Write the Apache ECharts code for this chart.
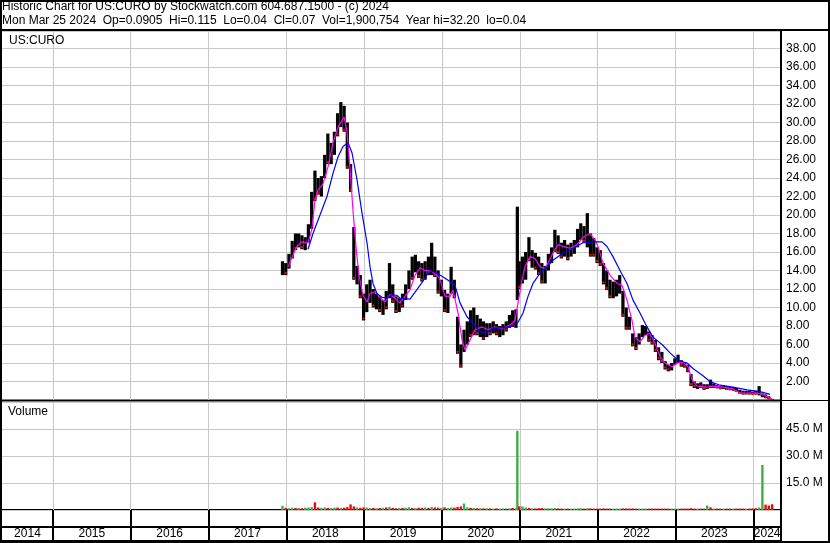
<!DOCTYPE html>
<html>
<head>
<meta charset="utf-8">
<script src="https://cdn.jsdelivr.net/npm/echarts@6.0.0/dist/echarts.min.js"></script>
<style>
  html, body { margin: 0; padding: 0; background: #fff; }
  #chart { width: 830px; height: 543px; }
</style>
</head>
<body>
<div id="chart"></div>
<script>
// price range per half month: [decimal year, low, high]
var priceBars = [
  [2017.950, 13.5, 15.0], [2017.992, 13.5, 14.8], [2018.033, 14.2, 15.8], [2018.075, 15.3, 17.2],
  [2018.117, 16.2, 18.0], [2018.158, 16.5, 18.0], [2018.200, 16.3, 17.8], [2018.242, 16.2, 17.6],
  [2018.283, 17.0, 19.0], [2018.325, 18.5, 22.5], [2018.367, 21.5, 24.8], [2018.408, 22.2, 24.0],
  [2018.450, 22.0, 24.2], [2018.492, 24.0, 26.5], [2018.533, 25.5, 28.8], [2018.575, 25.5, 27.8],
  [2018.617, 26.5, 29.0], [2018.658, 28.5, 31.0], [2018.700, 29.5, 32.2], [2018.742, 29.0, 31.8],
  [2018.783, 25.0, 30.0], [2018.825, 22.5, 25.5], [2018.867, 13.0, 18.7], [2018.908, 12.5, 14.5],
  [2018.950, 11.0, 13.5], [2018.992, 8.6, 11.5], [2019.033, 9.5, 12.5], [2019.075, 10.5, 13.0],
  [2019.117, 10.0, 12.0], [2019.158, 9.8, 11.5], [2019.200, 9.5, 11.2], [2019.242, 9.2, 10.8],
  [2019.283, 9.8, 11.8], [2019.325, 11.0, 14.8], [2019.367, 10.5, 12.5], [2019.408, 9.4, 11.2],
  [2019.450, 9.5, 11.0], [2019.492, 10.0, 11.5], [2019.533, 10.8, 12.5], [2019.575, 12.0, 14.0],
  [2019.617, 13.0, 15.5], [2019.658, 13.8, 15.7], [2019.700, 13.2, 15.0], [2019.742, 12.8, 14.8],
  [2019.783, 13.0, 15.0], [2019.825, 13.5, 15.5], [2019.867, 13.5, 17.0], [2019.908, 13.3, 15.5],
  [2019.950, 11.5, 14.0], [2019.992, 11.2, 13.0], [2020.033, 9.5, 11.9], [2020.075, 9.4, 11.5],
  [2020.117, 11.5, 14.4], [2020.158, 11.0, 13.0], [2020.200, 5.0, 9.0], [2020.242, 3.5, 6.0],
  [2020.283, 5.2, 7.6], [2020.325, 6.0, 8.5], [2020.367, 6.8, 9.7], [2020.408, 7.0, 10.0],
  [2020.450, 7.0, 9.2], [2020.492, 6.8, 8.8], [2020.533, 6.5, 8.5], [2020.575, 6.8, 8.3],
  [2020.617, 7.0, 8.3], [2020.658, 7.2, 8.5], [2020.700, 7.0, 8.2], [2020.742, 6.8, 8.0],
  [2020.783, 7.0, 8.2], [2020.825, 7.4, 8.5], [2020.867, 7.8, 9.2], [2020.908, 7.9, 9.7],
  [2020.950, 7.8, 9.8], [2020.968, 10.8, 20.9], [2020.992, 12.0, 15.0], [2021.033, 12.6, 15.5],
  [2021.075, 13.0, 16.0], [2021.117, 15.0, 17.6], [2021.158, 14.3, 16.2], [2021.200, 14.1, 15.9],
  [2021.242, 13.5, 15.5], [2021.283, 12.6, 14.8], [2021.325, 12.6, 14.5], [2021.367, 14.0, 15.8],
  [2021.408, 14.8, 16.5], [2021.450, 16.0, 18.4], [2021.492, 15.8, 17.8], [2021.533, 15.3, 17.0],
  [2021.575, 15.5, 17.3], [2021.617, 15.1, 16.8], [2021.658, 15.5, 17.0], [2021.700, 15.8, 17.3],
  [2021.742, 16.5, 18.5], [2021.783, 17.3, 19.1], [2021.825, 17.0, 18.8], [2021.867, 16.5, 20.2],
  [2021.908, 15.5, 18.0], [2021.950, 15.5, 17.5], [2021.992, 14.8, 16.5], [2022.033, 14.5, 16.2],
  [2022.075, 12.5, 14.8], [2022.117, 11.9, 14.0], [2022.158, 11.0, 13.0], [2022.200, 11.0, 12.8],
  [2022.242, 11.2, 13.0], [2022.283, 11.5, 13.5], [2022.325, 9.0, 11.8], [2022.367, 7.6, 10.0],
  [2022.408, 7.6, 9.0], [2022.450, 5.8, 7.2], [2022.492, 5.4, 6.8], [2022.533, 6.0, 7.2],
  [2022.575, 6.8, 8.1], [2022.617, 7.0, 8.0], [2022.658, 6.3, 7.4], [2022.700, 6.0, 7.0],
  [2022.742, 5.2, 6.5], [2022.783, 4.3, 5.7], [2022.825, 4.0, 5.2], [2022.867, 3.3, 4.2],
  [2022.908, 3.1, 3.8], [2022.950, 3.2, 4.0], [2022.992, 3.8, 4.5], [2023.033, 4.0, 4.9],
  [2023.075, 3.6, 4.3], [2023.117, 3.5, 4.1], [2023.158, 3.0, 3.8], [2023.200, 1.5, 2.8],
  [2023.242, 1.3, 2.0], [2023.283, 1.2, 1.8], [2023.325, 1.3, 1.9], [2023.367, 1.1, 1.7],
  [2023.408, 1.2, 1.7], [2023.450, 1.3, 2.2], [2023.492, 1.3, 1.8], [2023.533, 1.3, 1.6],
  [2023.575, 1.2, 1.5], [2023.617, 1.2, 1.6], [2023.658, 1.1, 1.5], [2023.700, 1.1, 1.4],
  [2023.742, 1.0, 1.4], [2023.783, 0.9, 1.3], [2023.825, 0.7, 1.1], [2023.867, 0.6, 1.0],
  [2023.908, 0.6, 1.0], [2023.950, 0.6, 1.0], [2023.992, 0.6, 0.9], [2024.033, 0.6, 1.0],
  [2024.075, 0.5, 1.5], [2024.117, 0.3, 0.7], [2024.158, 0.2, 0.6], [2024.200, 0.1, 0.4],
  [2024.242, 0.04, 0.12]
]

// short average (magenta)
var fastAvg = [
  [2018.021, 14.4], [2018.133, 16.6], [2018.197, 17.1], [2018.278, 17.0], [2018.326, 18.4],
  [2018.368, 21.6], [2018.407, 22.7], [2018.471, 23.4], [2018.535, 25.2], [2018.599, 27.8],
  [2018.664, 29.5], [2018.741, 30.6], [2018.779, 29.0], [2018.818, 25.0], [2018.856, 20.5],
  [2018.895, 16.5], [2018.933, 13.5], [2018.985, 11.3], [2019.036, 10.6], [2019.075, 11.5],
  [2019.139, 11.7], [2019.203, 11.1], [2019.267, 10.6], [2019.332, 11.4], [2019.396, 11.0],
  [2019.460, 10.5], [2019.589, 11.9], [2019.653, 13.5], [2019.717, 14.3], [2019.781, 14.0],
  [2019.846, 14.0], [2019.936, 13.5], [2019.974, 13.0], [2020.039, 11.2], [2020.103, 11.2],
  [2020.141, 11.9], [2020.206, 9.4], [2020.257, 6.5], [2020.296, 5.4], [2020.360, 6.5],
  [2020.424, 7.6], [2020.514, 7.9], [2020.591, 7.6], [2020.681, 7.9], [2020.771, 7.7],
  [2020.874, 8.1], [2020.938, 8.6], [2020.977, 10.5], [2021.028, 13.0], [2021.066, 14.4],
  [2021.131, 15.5], [2021.195, 15.3], [2021.259, 14.4], [2021.323, 14.2], [2021.362, 14.8],
  [2021.426, 15.9], [2021.491, 16.8], [2021.555, 16.6], [2021.645, 16.4], [2021.735, 16.8],
  [2021.812, 17.6], [2021.902, 18.0], [2021.966, 17.3], [2022.005, 16.6], [2022.069, 14.8],
  [2022.159, 13.5], [2022.249, 12.6], [2022.313, 12.4], [2022.377, 10.8], [2022.441, 8.6],
  [2022.480, 6.8], [2022.544, 6.3], [2022.609, 7.0], [2022.673, 7.2], [2022.737, 6.1],
  [2022.801, 4.7], [2022.865, 4.0], [2022.955, 3.6], [2023.020, 4.0], [2023.097, 4.1],
  [2023.161, 3.6], [2023.212, 2.2], [2023.277, 1.5], [2023.405, 1.4], [2023.482, 1.5],
  [2023.611, 1.4], [2023.739, 1.2], [2023.829, 0.75], [2024.048, 0.75], [2024.125, 0.6],
  [2024.240, 0.1]
]

// long average (blue)
var slowAvg = [
  [2018.278, 16.3], [2018.342, 18.0], [2018.432, 20.0], [2018.522, 22.0], [2018.599, 24.5],
  [2018.664, 26.3], [2018.728, 27.4], [2018.792, 27.8], [2018.844, 26.7], [2018.908, 23.8],
  [2018.972, 20.2], [2019.036, 17.0], [2019.075, 14.4], [2019.113, 12.6], [2019.165, 11.5],
  [2019.229, 11.1], [2019.293, 11.0], [2019.357, 11.4], [2019.422, 11.3], [2019.460, 11.0],
  [2019.589, 10.9], [2019.717, 12.4], [2019.846, 14.0], [2019.936, 13.7], [2020.013, 13.3],
  [2020.103, 12.8], [2020.167, 12.4], [2020.231, 10.5], [2020.321, 9.0], [2020.398, 8.3],
  [2020.488, 7.4], [2020.553, 7.2], [2020.655, 7.8], [2020.784, 7.8], [2020.900, 8.0],
  [2020.977, 8.4], [2021.041, 9.4], [2021.105, 11.2], [2021.169, 12.6], [2021.259, 13.7],
  [2021.349, 14.4], [2021.426, 15.1], [2021.555, 15.9], [2021.683, 16.4], [2021.812, 17.0],
  [2021.940, 17.1], [2022.056, 17.1], [2022.120, 16.6], [2022.197, 15.5], [2022.287, 14.0],
  [2022.377, 12.6], [2022.454, 10.8], [2022.544, 9.4], [2022.634, 7.9], [2022.711, 6.8],
  [2022.827, 6.0], [2022.930, 5.1], [2023.033, 4.3], [2023.148, 4.0], [2023.225, 3.4],
  [2023.341, 2.7], [2023.444, 2.0], [2023.572, 1.6], [2023.739, 1.4], [2023.919, 1.1],
  [2024.086, 0.9], [2024.215, 0.6]
]

// volume in millions: [decimal year, volume, 1 = up / 0 = down]
var volumes = [
  [2017.950, 2.3, 1], [2017.992, 1.2, 0], [2018.033, 1.0, 1], [2018.075, 1.3, 1], [2018.117, 1.1, 0],
  [2018.158, 1.2, 1], [2018.200, 1.0, 0], [2018.242, 1.3, 1], [2018.283, 1.4, 1], [2018.325, 1.6, 1],
  [2018.367, 4.3, 0], [2018.408, 1.4, 0], [2018.450, 1.2, 1], [2018.492, 1.4, 1], [2018.533, 1.2, 0],
  [2018.575, 1.1, 1], [2018.617, 1.3, 1], [2018.658, 1.4, 0], [2018.700, 1.2, 1], [2018.742, 1.3, 0],
  [2018.783, 1.6, 0], [2018.825, 3.1, 0], [2018.867, 2.0, 0], [2018.908, 1.4, 1], [2018.950, 1.2, 0],
  [2018.992, 1.5, 0], [2019.033, 1.3, 1], [2019.075, 1.1, 1], [2019.117, 1.2, 0], [2019.158, 1.0, 1],
  [2019.200, 1.1, 0], [2019.242, 1.2, 1], [2019.283, 1.4, 0], [2019.325, 1.7, 1], [2019.367, 1.2, 0],
  [2019.408, 1.0, 0], [2019.450, 1.1, 1], [2019.492, 1.2, 0], [2019.533, 1.3, 1], [2019.575, 1.5, 1],
  [2019.617, 1.2, 0], [2019.658, 1.1, 1], [2019.700, 1.3, 0], [2019.742, 1.2, 0], [2019.783, 1.4, 1],
  [2019.825, 1.2, 0], [2019.867, 1.6, 1], [2019.908, 1.4, 0], [2019.950, 1.3, 0], [2019.992, 1.2, 1],
  [2020.033, 1.5, 0], [2020.075, 1.2, 1], [2020.117, 1.4, 1], [2020.158, 1.3, 0], [2020.200, 1.7, 0],
  [2020.242, 2.0, 0], [2020.283, 3.6, 1], [2020.325, 1.5, 1], [2020.367, 1.2, 0], [2020.408, 1.1, 1],
  [2020.450, 1.0, 0], [2020.492, 1.0, 1], [2020.533, 0.9, 0], [2020.575, 1.0, 1], [2020.617, 0.9, 0],
  [2020.658, 0.8, 1], [2020.700, 0.9, 0], [2020.742, 0.8, 1], [2020.783, 0.9, 1], [2020.825, 0.8, 0],
  [2020.867, 1.0, 1], [2020.908, 1.1, 0], [2020.950, 1.0, 1], [2020.968, 44.0, 1], [2020.992, 2.0, 0],
  [2021.033, 2.0, 1], [2021.075, 1.4, 1], [2021.117, 1.2, 0], [2021.158, 1.0, 1], [2021.200, 0.9, 0],
  [2021.242, 1.0, 0], [2021.283, 1.1, 0], [2021.325, 0.9, 1], [2021.367, 1.0, 1], [2021.408, 0.9, 1],
  [2021.450, 1.1, 1], [2021.492, 0.9, 0], [2021.533, 0.8, 0], [2021.575, 0.8, 1], [2021.617, 0.8, 0],
  [2021.658, 0.8, 1], [2021.700, 0.8, 1], [2021.742, 0.9, 1], [2021.783, 1.0, 1], [2021.825, 0.8, 0],
  [2021.867, 1.0, 1], [2021.908, 0.9, 0], [2021.950, 0.8, 0], [2021.992, 0.8, 0], [2022.033, 0.8, 0],
  [2022.075, 0.9, 0], [2022.117, 0.8, 0], [2022.158, 0.8, 0], [2022.200, 0.8, 1], [2022.242, 0.8, 1],
  [2022.283, 0.8, 1], [2022.325, 0.9, 0], [2022.367, 0.9, 0], [2022.408, 0.8, 0], [2022.450, 0.9, 0],
  [2022.492, 0.8, 0], [2022.533, 0.8, 1], [2022.575, 0.8, 1], [2022.617, 0.8, 1], [2022.658, 0.8, 0],
  [2022.700, 0.8, 0], [2022.742, 0.8, 0], [2022.783, 0.8, 0], [2022.825, 0.8, 0], [2022.867, 0.8, 0],
  [2022.908, 0.8, 0], [2022.950, 0.8, 1], [2022.992, 0.8, 1], [2023.033, 0.8, 1], [2023.075, 0.8, 0],
  [2023.117, 0.8, 0], [2023.158, 0.8, 0], [2023.200, 1.0, 0], [2023.242, 0.8, 0], [2023.283, 0.8, 1],
  [2023.325, 0.8, 0], [2023.367, 0.8, 0], [2023.408, 2.5, 1], [2023.450, 1.5, 0], [2023.492, 0.8, 1],
  [2023.533, 0.8, 0], [2023.575, 0.8, 0], [2023.617, 0.8, 1], [2023.658, 0.8, 0], [2023.700, 0.8, 0],
  [2023.742, 0.8, 1], [2023.783, 0.8, 0], [2023.825, 0.8, 0], [2023.867, 0.8, 0], [2023.908, 0.8, 1],
  [2023.950, 0.8, 0], [2023.992, 0.9, 0], [2024.033, 1.0, 0], [2024.075, 1.4, 1], [2024.117, 25.0, 1],
  [2024.158, 3.0, 0], [2024.200, 2.5, 0], [2024.242, 3.2, 0]
]

var yearLabels = ['2014', '2015', '2016', '2017', '2018', '2019', '2020', '2021', '2022', '2023', '2024']
var priceStep = 2
var volumeStep = 15

var xMin = 2014
var xMax = 2024.356
var xVisible = 2014.346 // first year visible at the left frame
var font = 'Liberation Sans, Arial, sans-serif'

// centre of each (partly) visible year cell for the year labels
var yearCentres = yearLabels.map(function (y) {
  var a = Math.max(+y, xVisible)
  var b = Math.min(+y + 1, xMax)
  return (a + b) / 2
})

// down periods get a red mark at the low end of the range
var downAt = {}
volumes.forEach(function (v) { downAt[v[0]] = v[2] === 0 })

var myChart = echarts.init(document.getElementById('chart'))

function xAxisFor (gridIndex, lineColor, lineWidth) {
  return {
    gridIndex: gridIndex,
    type: 'value',
    min: xMin,
    max: xMax,
    interval: 1,
    axisLine: { show: false },
    axisTick: { show: false },
    axisLabel: { show: false },
    splitLine: { show: true, lineStyle: { color: lineColor, width: lineWidth } }
  }
}

var labelAxis = xAxisFor(3, '#000', 2)
labelAxis.axisLabel = {
  show: true,
  inside: true,
  margin: 1,
  customValues: yearCentres,
  color: '#000',
  fontSize: 12,
  fontFamily: font,
  formatter: function (v) {
    return yearLabels[Math.floor(v) - 2014]
  }
}

var gridBase = { left: -24.9, right: 49, show: true, borderColor: '#000', borderWidth: 1, backgroundColor: '#fff', outerBoundsMode: 'none', containLabel: false }

myChart.setOption({
  animation: false,
  backgroundColor: '#fff',
  title: [
    { text: 'Historic Chart for US:CURO by Stockwatch.com 604.687.1500 - (c) 2024', left: 2, top: 1, padding: 0,
      textStyle: { fontSize: 12, fontWeight: 'normal', color: '#000', fontFamily: font } },
    { text: 'Mon Mar 25 2024  Op=0.0905  Hi=0.115  Lo=0.04  Cl=0.07  Vol=1,900,754  Year hi=32.20  lo=0.04', left: 2, top: 15, padding: 0,
      textStyle: { fontSize: 12, fontWeight: 'normal', color: '#000', fontFamily: font } },
    { text: 'US:CURO', left: 9, top: 35, padding: 0,
      textStyle: { fontSize: 12, fontWeight: 'normal', color: '#000', fontFamily: font } },
    { text: 'Volume', left: 8, top: 406, padding: 0,
      textStyle: { fontSize: 12, fontWeight: 'normal', color: '#000', fontFamily: font } }
  ],
  grid: [
    Object.assign({}, gridBase, { top: 31, height: 369 }),
    Object.assign({}, gridBase, { top: 402, height: 108 }),
    Object.assign({}, gridBase, { top: 510, height: 17, borderWidth: 2 }),
    Object.assign({}, gridBase, { top: 527, height: 14, borderWidth: 2 })
  ],
  xAxis: [
    xAxisFor(0, '#c8c8c8', 1),
    xAxisFor(1, '#c8c8c8', 1),
    xAxisFor(2, '#000', 2),
    labelAxis
  ],
  yAxis: [
    {
      gridIndex: 0, type: 'value', position: 'right', min: 0, max: 39.89, interval: priceStep,
      axisLine: { show: false }, axisTick: { show: false },
      axisLabel: { margin: 5, color: '#000', fontSize: 12, fontFamily: font, showMinLabel: false, showMaxLabel: false,
        formatter: function (v) { return v.toFixed(2) } },
      splitLine: { lineStyle: { color: '#c8c8c8', width: 1 } }
    },
    {
      gridIndex: 1, type: 'value', position: 'right', min: 0, max: 60, interval: volumeStep,
      axisLine: { show: false }, axisTick: { show: false },
      axisLabel: { margin: 5, color: '#000', fontSize: 12, fontFamily: font, showMinLabel: false, showMaxLabel: false,
        formatter: function (v) { return v.toFixed(1) + ' M' } },
      splitLine: { lineStyle: { color: '#c8c8c8', width: 1 } }
    },
    { gridIndex: 2, type: 'value', min: 0, max: 1, show: false },
    { gridIndex: 3, type: 'value', min: 0, max: 1, show: false }
  ],
  series: [
    {
      name: 'range',
      type: 'custom',
      xAxisIndex: 0,
      yAxisIndex: 0,
      clip: true,
      z: 3,
      encode: { x: 0, y: [1, 2] },
      renderItem: function (params, api) {
        var t = api.value(0)
        var lo = api.coord([t, api.value(1)])
        var hi = api.coord([t, api.value(2)])
        var w = api.size([1 / 24, 0])[0]
        var h = Math.max(lo[1] - hi[1], 1)
        var kids = [
          { type: 'rect', shape: { x: lo[0] - w / 2, y: hi[1], width: w, height: h }, style: { fill: '#000' } }
        ]
        if (downAt[t]) {
          kids.push({ type: 'rect', shape: { x: lo[0] - 1, y: lo[1] - Math.min(3, h / 2), width: 2, height: 2 }, style: { fill: '#ff0000' } })
        }
        return { type: 'group', children: kids }
      },
      data: priceBars
    },
    {
      name: 'fast',
      type: 'line',
      xAxisIndex: 0,
      yAxisIndex: 0,
      symbol: 'none',
      z: 5,
      lineStyle: { color: '#ff00ff', width: 1.2 },
      data: fastAvg
    },
    {
      name: 'slow',
      type: 'line',
      xAxisIndex: 0,
      yAxisIndex: 0,
      symbol: 'none',
      z: 6,
      lineStyle: { color: '#0000ff', width: 1.2 },
      data: slowAvg
    },
    {
      name: 'volume',
      type: 'custom',
      xAxisIndex: 1,
      yAxisIndex: 1,
      clip: true,
      z: 3,
      encode: { x: 0, y: 1 },
      renderItem: function (params, api) {
        var base = api.coord([api.value(0), 0])
        var top = api.coord([api.value(0), api.value(1)])
        return {
          type: 'rect',
          shape: { x: base[0] - 1.2, y: top[1], width: 2.4, height: Math.max(base[1] - top[1], 1) },
          style: { fill: api.value(2) ? '#3cb043' : '#ff0000' }
        }
      },
      data: volumes
    }
  ],
  graphic: [
    { type: 'rect', silent: true, z: 100, shape: { x: 1, y: 1, width: 828, height: 541 }, style: { fill: null, stroke: '#000', lineWidth: 2 } },
    { type: 'line', silent: true, z: 100, shape: { x1: 0, y1: 30, x2: 830, y2: 30 }, style: { stroke: '#000', lineWidth: 2 } },
    { type: 'line', silent: true, z: 100, shape: { x1: 0, y1: 400.5, x2: 830, y2: 400.5 }, style: { stroke: '#000', lineWidth: 1 } },
    { type: 'line', silent: true, z: 100, shape: { x1: 781, y1: 31, x2: 781, y2: 542 }, style: { stroke: '#000', lineWidth: 2 } }
  ]
})
</script>
</body>
</html>
